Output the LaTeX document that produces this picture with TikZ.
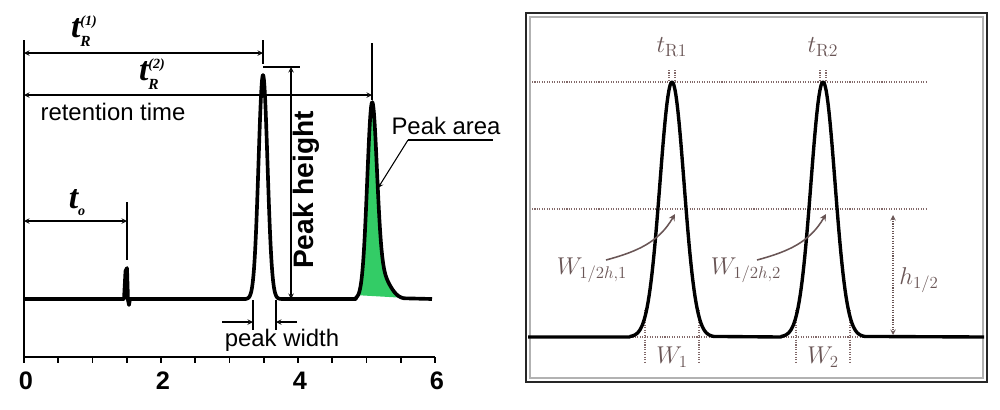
\documentclass[tikz,border=0pt]{standalone}
\usepackage{fontspec}
\usepackage{amsmath}
\usetikzlibrary{arrows.meta, calc}
\newfontfamily\arial{Liberation Sans}
\newfontfamily\timesf{Liberation Serif}
\definecolor{areagreen}{RGB}{51,204,102}
\definecolor{notebrown}{RGB}{105,85,85}
\definecolor{guidebrown}{RGB}{130,105,105}

\begin{document}
\begin{tikzpicture}[x=0.025cm,y=-0.025cm,>=stealth,
  trace/.style={line width=2.6pt,line join=round},
  axis/.style={line width=1.4pt},
  dim/.style={line width=0.75pt},
  txt/.style={font=\arial\fontsize{17}{19}\selectfont,inner sep=0pt},
  num/.style={font=\arial\bfseries\fontsize{18}{19}\selectfont,inner sep=0pt},
  tlab/.style={font=\timesf\bfseries\itshape\fontsize{24}{24}\selectfont,inner sep=0pt},
  guide/.style={densely dotted,draw=guidebrown,line width=0.75pt},
  note/.style={text=notebrown,inner sep=0pt,font=\fontsize{18}{20}\selectfont}]

\useasboundingbox (0,0) rectangle (1000,409);

% --- Cromatogramma (sinistra)
\coordinate (orig) at (24,357);
\coordinate (ytop) at (24,40);
\coordinate (xend) at (435,357);

% --- Assi
\draw[axis] (ytop) -- (orig) -- (xend);
\foreach \k in {0,...,12}{
  \draw[axis] ({24+34.25*\k},357) -- ++(0,6);
}
\foreach \v in {0,2,4,6}{
  \node[num] (num\v) at ({26+68.5*\v},381) {\v};
}

% --- Picco verde (area)
\fill[areagreen] plot[domain=358:402,samples=89]
  (\x,{299-180*exp(-((\x-372)^2)/46)-25*exp(-((\x-380)^2)/162)}) -- cycle;

% --- Tracciato
\draw[trace] (24,299) -- (124,299) -- (125.5,271) -- (127,268) -- (128,300)
  -- (129,305) -- (130,299) -- (246,299)
  -- plot[domain=246:282,samples=73] (\x,{299-224*exp(-((\x-263)^2)/40.5)})
  -- (356,299)
  -- plot[domain=356:404,samples=97]
     (\x,{299-180*exp(-((\x-372)^2)/46)-25*exp(-((\x-380)^2)/162)})
  -- (432,299);

% --- Tempi di ritenzione
\coordinate (tzero) at (127,221);
\coordinate (tone) at (263,53);
\coordinate (ttwo) at (372,95);
\draw[dim] (127,202) -- (127,260);
\draw[dim] (263,40) -- (263,64);
\draw[dim] (372,43) -- (372,100);
\draw[dim,<->] (24,53) -- (tone);
\draw[dim,<->] (24,95) -- (ttwo);
\draw[dim,<->] (24,221) -- (tzero);

\node[tlab] (lone) at (84,31) {t\rlap{\raisebox{-6pt}{\fontsize{11}{11}\selectfont R}}\raisebox{9pt}{\fontsize{10}{10}\selectfont (1)}};
\node[tlab] (ltwo) at (152,74) {t\rlap{\raisebox{-6pt}{\fontsize{11}{11}\selectfont R}}\raisebox{9pt}{\fontsize{10}{10}\selectfont (2)}};
\node[tlab] (lzero) at (77,203) {t\raisebox{-5pt}{\fontsize{10}{10}\selectfont o}};
\node[txt] (ret) at (113,112) {retention time};

% --- Altezza
\coordinate (htop) at (291,67);
\coordinate (hbot) at (291,299);
\draw[dim] (263,67) -- (300,67);
\draw[dim,<->] (htop) -- (hbot);
\node[txt,font=\arial\bfseries\fontsize{20}{22}\selectfont,rotate=90] (hgt) at (306,190) {Peak height};

% --- Area
\node[txt] (area) at (446,126) {Peak area};
\coordinate (aleft) at (408,140);
\coordinate (ain) at (378,188);
\draw[dim] (aleft) -- (493,140);
\draw[dim,->] (aleft) -- (ain);

% --- Larghezza
\coordinate (wl) at (253,322);
\coordinate (wr) at (276,322);
\draw[dim] (253,300) -- (253,330);
\draw[dim] (276,300) -- (276,330);
\draw[dim,->] (222,322) -- (wl);
\draw[dim,->] (297,322) -- (wr);
\node[txt] (wid) at (282,340) {peak width};

% --- Risoluzione (destra)
\draw[line width=2pt,black!85] (526,13) rectangle (987,382);
\draw[line width=0.8pt,gray!60] (530,17) rectangle (983,378);

% --- Linee guida
\draw[guide] (532,82) -- (927,82);
\draw[guide] (532,209) -- (927,209);
\foreach \c in {672,823}{
  \draw[guide] (\c-3,70) -- (\c-3,82);
  \draw[guide] (\c+3,70) -- (\c+3,82);
  \draw[guide] (\c-42,337) -- (\c+42,337);
  \draw[guide] (\c-27,310) -- (\c-27,362);
  \draw[guide] (\c+27,310) -- (\c+27,362);
}

% --- Picchi
\draw[line width=2.4pt,line join=round] (528,337) -- (630,337)
  -- plot[domain=630:714,samples=85] (\x,{337-255*exp(-((\x-672)^2)/288)})
  -- (781,337)
  -- plot[domain=781:865,samples=85] (\x,{337-255*exp(-((\x-823)^2)/288)})
  -- (984,337);

% --- Etichette
\node[note] (tra) at (672,47) {$t_{\mathrm{R1}}$};
\node[note] (trb) at (823,47) {$t_{\mathrm{R2}}$};
\node[note] (wha) at (592,270) {$W_{1/2h,1}$};
\node[note] (whb) at (746,270) {$W_{1/2h,2}$};
\node[note] (wa) at (672,357) {$W_1$};
\node[note] (wb) at (823,357) {$W_2$};
\node[note] (hh) at (919,280) {$h_{1/2}$};

\coordinate (ha) at (675,214);
\coordinate (hb) at (826,214);
\draw[->,notebrown,line width=1.1pt] (606,260) to[out=15,in=-120] (ha);
\draw[->,notebrown,line width=1.1pt] (757,260) to[out=15,in=-120] (hb);
\draw[<->,guide,draw=notebrown] (893,215) -- (893,335);

\end{tikzpicture}
\end{document}
